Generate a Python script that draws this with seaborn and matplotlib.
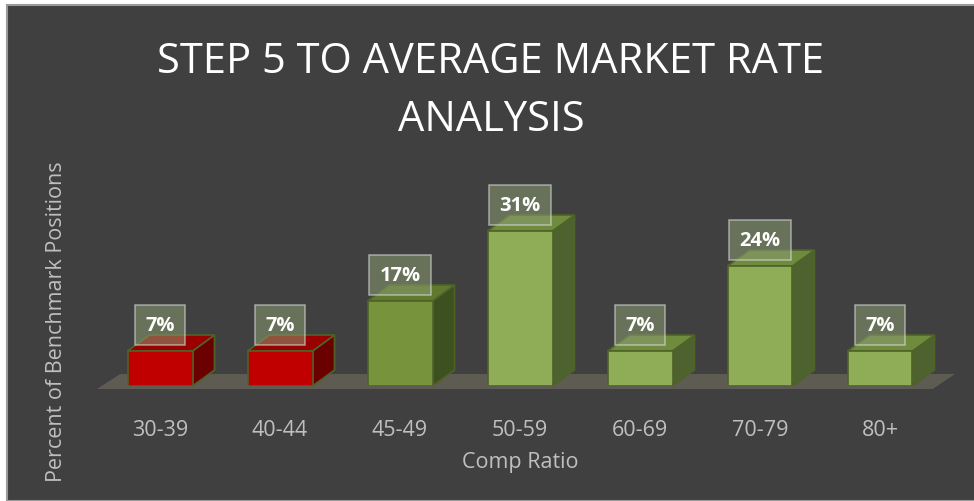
import matplotlib
matplotlib.use("Agg")
import matplotlib.pyplot as plt
import seaborn as sns
import pandas as pd
from matplotlib.patches import Polygon, Rectangle

categories = ["30-39", "40-44", "45-49", "50-59", "60-69", "70-79", "80+"]
values = [7, 7, 17, 31, 7, 24, 7]
labels = ["7%", "7%", "17%", "31%", "7%", "24%", "7%"]
front_colors = ["#c00000", "#c00000", "#77933c", "#8fad57", "#8fad57", "#8fad57", "#8fad57"]
top_colors = ["#990000", "#990000", "#5f7a2e", "#6f8c3e", "#6f8c3e", "#6f8c3e", "#6f8c3e"]
side_colors = ["#6a0000", "#6a0000", "#3d5020", "#4e6230", "#4e6230", "#4e6230", "#4e6230"]

title = "STEP 5 TO AVERAGE MARKET RATE\nANALYSIS"
xlabel = "Comp Ratio"
ylabel = "Percent of Benchmark Positions"

sns.set_theme(style="white")
plt.rcParams["font.family"] = ["Open Sans", "DejaVu Sans"]

BG = "#404040"
W, H = 974, 502
fig = plt.figure(figsize=(W / 100, H / 100), dpi=100)
fig.patch.set_facecolor("white")
# dark panel
fig.add_artist(Rectangle((7 / W, 0), 1, (H - 6) / H, transform=fig.transFigure,
                         facecolor=BG, edgecolor="#9a9a9a", linewidth=1.5, zorder=0))

# axes in pixels: left 100, width 840; baseline at y=387 from top, 5 px per %
ax = fig.add_axes([100 / W, (H - 387) / H, 840 / W, 200 / H])
ax.set_facecolor("none")

df = pd.DataFrame({"cat": categories, "val": values})
sns.barplot(data=df, x="cat", y="val", hue="cat", palette=front_colors, legend=False,
            width=65 / 120, edgecolor="#4f6228", linewidth=1.2, saturation=1, ax=ax, zorder=3)
ax.set_xlim(-0.5, 6.5)
ax.set_ylim(0, 40)

dx = 22 / 120
dy = 16 / 5

# floor
floor = Polygon([(-0.525, -0.6), (6.44, -0.6), (6.625, 2.4), (-0.333, 2.4)],
                closed=True, facecolor="#5e5b53", edgecolor="none", zorder=1, clip_on=False)
ax.add_patch(floor)

for i, p in enumerate(ax.patches[:len(values)]):
    if not isinstance(p, Rectangle):
        continue
    x0 = p.get_x()
    w = p.get_width()
    h = p.get_height()
    top = Polygon([(x0, h), (x0 + w, h), (x0 + w + dx, h + dy), (x0 + dx, h + dy)], closed=True,
                  facecolor=top_colors[i], edgecolor="#4f6228", linewidth=1.2, zorder=2.5, clip_on=False)
    side = Polygon([(x0 + w, 0), (x0 + w + dx, dy), (x0 + w + dx, h + dy), (x0 + w, h)], closed=True,
                   facecolor=side_colors[i], edgecolor="#4f6228", linewidth=1.2, zorder=2.5, clip_on=False)
    ax.add_patch(side)
    ax.add_patch(top)
    ax.text(x0 + w / 2, h + 5.2, labels[i], ha="center", va="center", color="white",
            fontsize=14.5, fontweight="bold", zorder=5, clip_on=False,
            bbox=dict(boxstyle="square,pad=0.5", facecolor="#8a9a70", alpha=0.55,
                      edgecolor="#e0e0e0", linewidth=1.2))

for s in ax.spines.values():
    s.set_visible(False)
ax.set_yticks([])
ax.tick_params(axis="x", length=0, pad=24, labelsize=15.5, labelcolor="#bfbfbf")
ax.set_xlabel(xlabel, fontsize=15.5, color="#bfbfbf", labelpad=8)
ax.set_ylabel("")
fig.text(57 / W, 1 - 322 / H, ylabel, rotation=90, ha="center", va="center",
         fontsize=15.5, color="#bfbfbf")

fig.text(491 / W, 1 - 91 / H, title, ha="center", va="center", fontsize=30,
         color="white", fontweight="normal", linespacing=1.5)

fig.savefig("out.png", dpi=100, facecolor=fig.get_facecolor())
